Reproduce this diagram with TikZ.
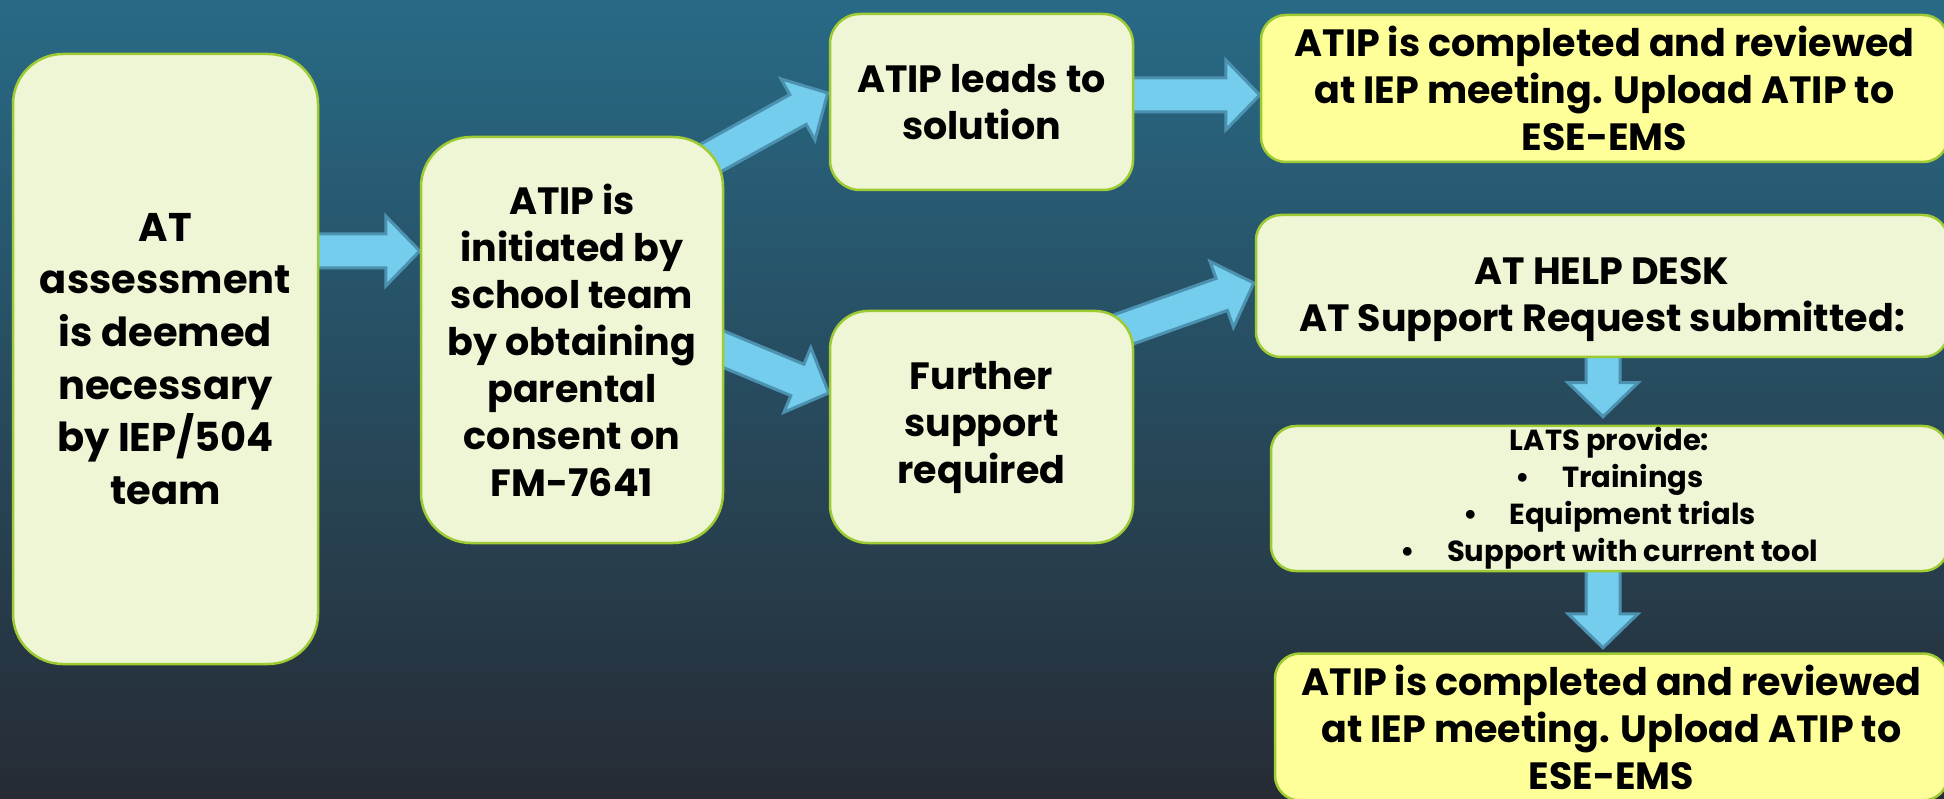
\documentclass[tikz,border=0pt]{standalone}
\usepackage{fontspec}
\setmainfont{Poppins}
\usetikzlibrary{calc}
\pgfdeclarelayer{bg}
\pgfdeclarelayer{arr}
\pgfsetlayers{bg,arr,main}
\definecolor{bgtop}{RGB}{40,106,134}
\definecolor{bgbot}{RGB}{38,43,52}
\definecolor{boxfill}{RGB}{239,246,214}
\definecolor{boxyel}{RGB}{255,255,153}
\definecolor{boxline}{RGB}{158,202,52}
\definecolor{arrfill}{RGB}{116,205,236}
\definecolor{arrline}{RGB}{76,146,176}
\tikzset{
  flowbox/.style={draw=boxline, line width=2.5pt, fill=boxfill, align=center, inner sep=0pt, text=black},
  yelbox/.style={flowbox, fill=boxyel},
  bigtxt/.style={font=\bfseries\fontsize{40pt}{52.6pt}\selectfont},
  midtxt/.style={font=\bfseries\fontsize{38pt}{47pt}\selectfont},
  smalltxt/.style={font=\bfseries\fontsize{29pt}{37pt}\selectfont},
  blkarrow/.style={fill=arrfill, draw=arrline, line width=3pt, line join=miter}
}
\newcommand\blockarrow[2]{%
  \coordinate (ba-h) at ($(#2)!34pt!(#1)$);
  \draw[blkarrow] ($(#1)!17pt!90:(#2)$) -- ($(ba-h)!17pt!-90:(#1)$) -- ($(ba-h)!35pt!-90:(#1)$) -- (#2)
     -- ($(ba-h)!35pt!90:(#1)$) -- ($(ba-h)!17pt!90:(#1)$) -- ($(#1)!17pt!-90:(#2)$) -- cycle;}
\begin{document}
\begin{tikzpicture}[x=1pt,y=-1pt]
\useasboundingbox (0,0) rectangle (1944,799);
\begin{pgfonlayer}{bg}
  \shade[top color=bgtop, bottom color=bgbot] (0,0) rectangle (1944,799);
\end{pgfonlayer}

\node[flowbox, bigtxt, minimum width=305pt, minimum height=610pt, rounded corners=50pt] (A) at (165.5,359)
  {AT\\assessment\\is deemed\\necessary\\by IEP/504\\team};
\node[flowbox, midtxt, minimum width=302pt, minimum height=406pt, rounded corners=50pt] (B) at (572,340)
  {ATIP is\\initiated by\\school team\\by obtaining\\parental\\consent on\\FM-7641};
\node[flowbox, midtxt, minimum width=303pt, minimum height=176pt, rounded corners=30pt] (C) at (981.5,102)
  {ATIP leads to\\solution};
\node[flowbox, midtxt, minimum width=303pt, minimum height=232pt, rounded corners=38pt] (D) at (981.5,427)
  {Further\\support\\required};
\node[yelbox, midtxt, minimum width=687pt, minimum height=147pt, rounded corners=25pt] (E) at (1604.5,88.5)
  {ATIP is completed and reviewed\\at IEP meeting. Upload ATIP to\\ESE-EMS};
\node[flowbox, midtxt, minimum width=692pt, minimum height=142pt, rounded corners=25pt] (F) at (1602,286)
  {\rule{0pt}{55pt}AT HELP DESK\\AT Support Request submitted:};
\node[flowbox, smalltxt, minimum width=677pt, minimum height=145pt, rounded corners=25pt] (G) at (1609.5,498.5)
  {LATS provide:\\\textbullet\hspace{32pt}Trainings\\\textbullet\hspace{32pt}Equipment trials\\\textbullet\hspace{32pt}Support with current tool};
\node[yelbox, midtxt, minimum width=673pt, minimum height=147pt, rounded corners=25pt] (H) at (1611.5,727)
  {ATIP is completed and reviewed\\at IEP meeting. Upload ATIP to\\ESE-EMS};

\coordinate (ab-s) at ($(A.east)+(-18,-108)$);
\coordinate (ab-t) at (B.west |- ab-s);
\coordinate (bc-s) at ($(B.north east)+(-33,33)$);
\coordinate (bc-t) at ($(C.west)+(-1,-9)$);
\coordinate (bd-s) at ($(B.east)+(-23,0)$);
\coordinate (bd-t) at ($(D.west)+(0,-34)$);
\coordinate (ce-s) at ($(C.east)+(-18,-7)$);
\coordinate (ce-t) at (E.west |- ce-s);
\coordinate (df-s) at ($(D.north east)+(-23,24)$);
\coordinate (df-t) at ($(F.west)+(-1,-3)$);
\coordinate (fg-s) at ($(F.south)+(1,-10)$);
\coordinate (fg-t) at ($(G.north)+(-6.5,-8)$);
\coordinate (gh-s) at ($(G.south)+(-6.5,-11)$);
\coordinate (gh-t) at ($(H.north)+(-8.5,-4.5)$);

\begin{pgfonlayer}{arr}
  \blockarrow{ab-s}{ab-t}
  \blockarrow{bc-s}{bc-t}
  \blockarrow{bd-s}{bd-t}
  \blockarrow{ce-s}{ce-t}
  \blockarrow{df-s}{df-t}
  \blockarrow{fg-s}{fg-t}
  \blockarrow{gh-s}{gh-t}
\end{pgfonlayer}
\end{tikzpicture}
\end{document}
